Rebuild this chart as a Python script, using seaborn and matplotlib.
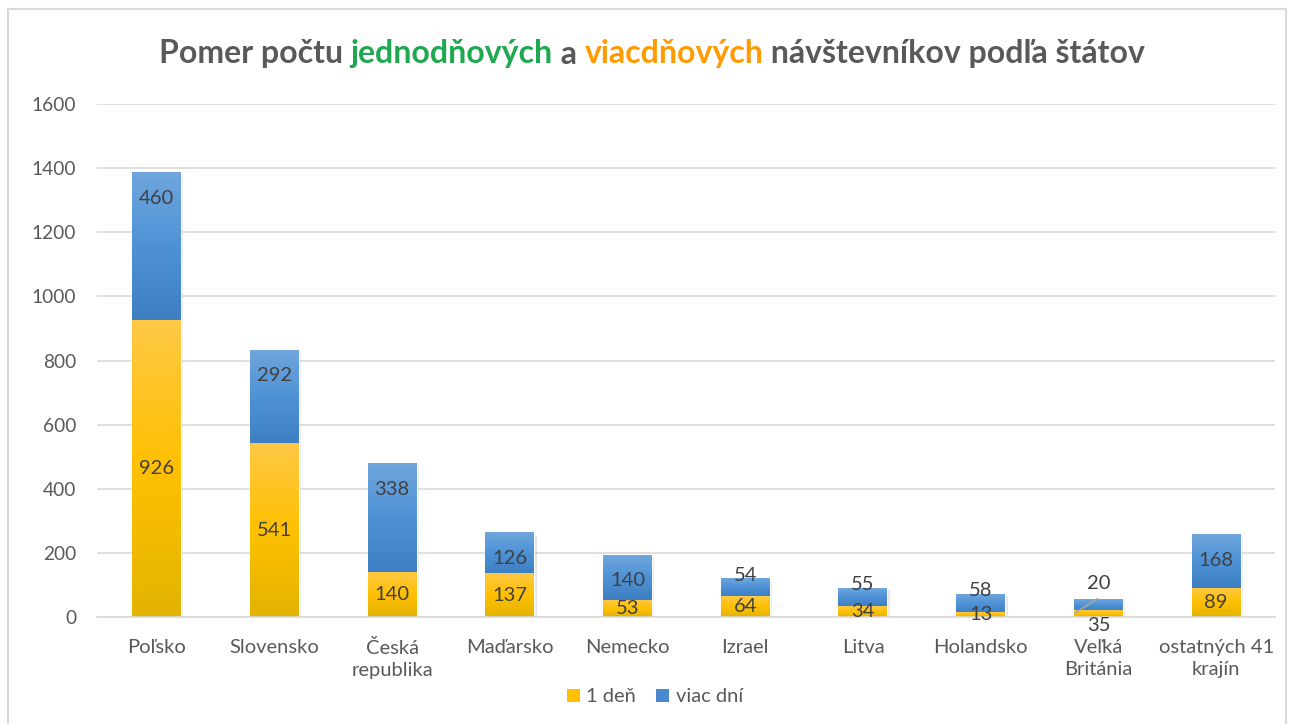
import numpy as np
import pandas as pd
import matplotlib
matplotlib.use("Agg")
import matplotlib.pyplot as plt
import seaborn as sns
from matplotlib.colors import LinearSegmentedColormap
from matplotlib.patches import Patch, Rectangle

countries = ["Poľsko", "Slovensko", "Česká\nrepublika", "Maďarsko", "Nemecko",
             "Izrael", "Litva", "Holandsko", "Veľká\nBritánia", "ostatných 41\nkrajín"]
one_day = [926, 541, 140, 137, 53, 64, 34, 13, 20, 89]
more_days = [460, 292, 338, 126, 140, 54, 55, 58, 35, 168]
y_ticks = [0, 200, 400, 600, 800, 1000, 1200, 1400, 1600]

df = pd.DataFrame({"krajina": countries, "1 deň": one_day, "viac dní": more_days})
df["spolu"] = df["1 deň"] + df["viac dní"]

sns.set_style("white")
plt.rcParams["font.family"] = ["Lato", "DejaVu Sans"]

fig = plt.figure(figsize=(12.9, 7.24), dpi=100)
ax = fig.add_axes([97 / 1290, 1 - 617 / 724, (1275 - 97) / 1290, (617 - 104) / 724])

bw = 0.416
sns.barplot(data=df, x="krajina", y="spolu", color="#4A89CE", width=bw, ax=ax, zorder=2)
sns.barplot(data=df, x="krajina", y="1 deň", color="#FFC000", width=bw, ax=ax, zorder=2)

yel = LinearSegmentedColormap.from_list("yel", ["#E3B300", "#FFC000", "#FFC846"])
blu = LinearSegmentedColormap.from_list("blu", ["#3E7FC3", "#4E92D6", "#6FA6DC"])
grad = np.linspace(0, 1, 256).reshape(-1, 1)

n = len(df)
patches = list(ax.patches)
for i, p in enumerate(patches[:n]):
    x0, w = p.get_x(), p.get_width()
    lo, hi = df["1 deň"][i], df["spolu"][i]
    p.set_facecolor("none")
    # soft shadow
    ax.add_patch(Rectangle((x0 + 0.02, -6), w, hi, color="#000000", alpha=0.10, lw=0, zorder=1.5))
    ax.imshow(grad, extent=(x0, x0 + w, lo, hi), origin="lower", cmap=blu, aspect="auto", zorder=2.2)
for i, p in enumerate(patches[n:]):
    x0, w = p.get_x(), p.get_width()
    p.set_facecolor("none")
    ax.imshow(grad, extent=(x0, x0 + w, 0, df["1 deň"][i]), origin="lower", cmap=yel,
              aspect="auto", zorder=2.2)

ax.set_xlim(-0.506, 9.5)
ax.set_ylim(0, 1600)
ax.set_yticks(y_ticks)
ax.set_yticklabels([str(t) for t in y_ticks])
ax.yaxis.grid(True, color="#D9D9D9", lw=1.2, zorder=0)
ax.set_axisbelow(True)
for s in ["left", "right", "top"]:
    ax.spines[s].set_visible(False)
ax.spines["bottom"].set_color("#D9D9D9")
ax.spines["bottom"].set_linewidth(1.2)
ax.tick_params(axis="y", length=0, labelsize=13.8, labelcolor="#595959", pad=15)
ax.tick_params(axis="x", length=0, labelsize=14.5, labelcolor="#595959", pad=16)
for t in ax.get_xticklabels():
    t.set_linespacing(1.35)
ax.set_xlabel("")
ax.set_ylabel("")

# data labels
lab_kw = dict(ha="center", va="center", fontsize=14.5, color="#404040", zorder=5)
for i in range(n):
    tot = df["spolu"][i]
    if i == 8:
        ax.text(i, tot + 51, str(one_day[i]), **lab_kw)
        ax.text(i, -25, str(more_days[i]), **lab_kw)
        ax.plot([i - 0.2, i - 0.01], [12, tot + 2], color="#A6A6A6", lw=1.2, zorder=4)
        continue
    ax.text(i, one_day[i] / 2, str(one_day[i]), **lab_kw)
    by = tot - 80 if more_days[i] > 100 else tot + 12
    ax.text(i, by, str(more_days[i]), **lab_kw)

handles = [Patch(facecolor="#FFC000", edgecolor="none"), Patch(facecolor="#4A89CE", edgecolor="none")]
fig.legend(handles, ["1 deň", "viac dní"], loc="center", bbox_to_anchor=(655 / 1290, 1 - 697 / 724),
           ncol=2, frameon=False, fontsize=14.5, labelcolor="#595959", handlelength=0.65,
           handleheight=0.65, handletextpad=0.3, columnspacing=1.0)

# multicolor title
pieces = [("Pomer počtu ", "#595959"), ("jednodňových", "#1EA84F"), (" a ", "#595959"),
          ("viacdňových", "#FF9A00"), (" návštevníkov podľa štátov", "#595959")]
r = fig.canvas.get_renderer()
texts = []
widths = []
for s, c in pieces:
    t = fig.text(0, 1 - 54 / 724, s, color=c, fontsize=23, fontweight="bold", va="center", ha="left")
    texts.append(t)
    widths.append(t.get_window_extent(r).width)
total = sum(widths)
x = 652 - total / 2
for t, wd in zip(texts, widths):
    t.set_x(x / 1290)
    x += wd

# chart border
fig.patches.append(Rectangle((8 / 1290, -0.05), (1286 - 8) / 1290, 1.05 - 9 / 724, transform=fig.transFigure,
                             fill=False, edgecolor="#D9D9D9", lw=1.5))

fig.savefig("out.png", dpi=100, facecolor="white")
